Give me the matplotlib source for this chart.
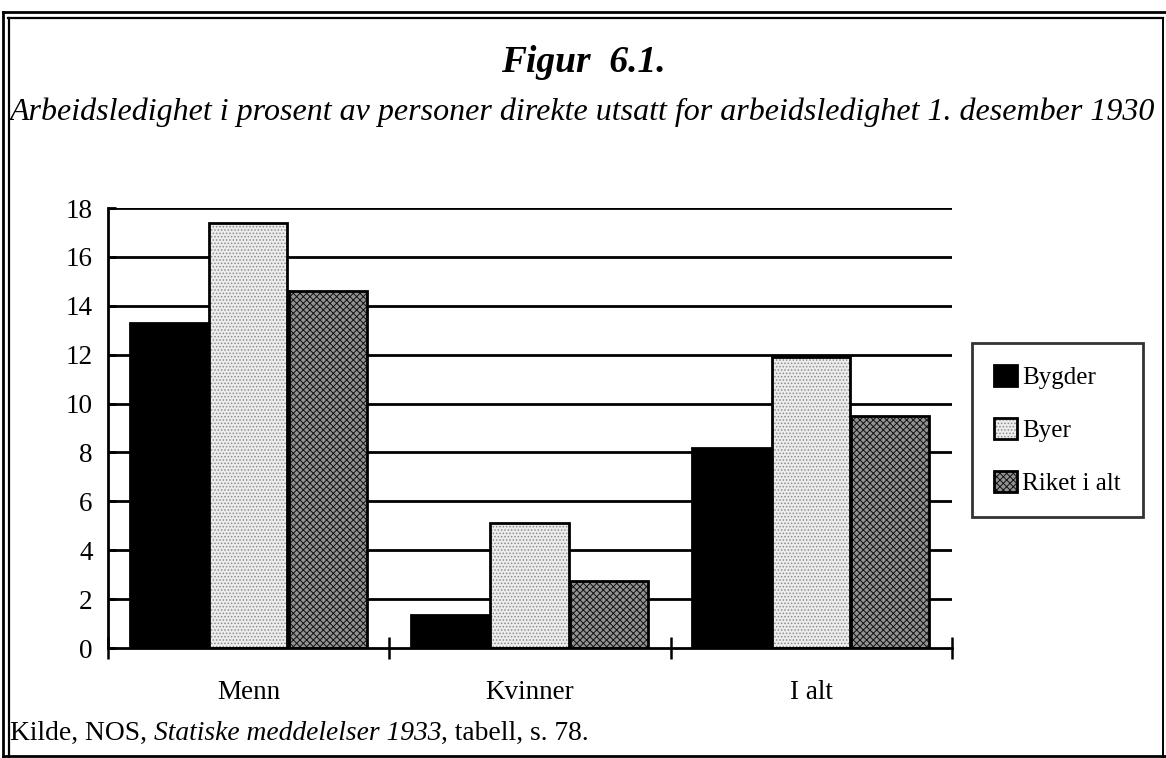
import matplotlib
matplotlib.use("Agg")
import matplotlib.pyplot as plt
from matplotlib.patches import Patch
from matplotlib.legend_handler import HandlerTuple
from matplotlib.lines import Line2D
import numpy as np

categories = ["Menn", "Kvinner", "I alt"]
series = ["Bygder", "Byer", "Riket i alt"]
bygder = [13.3, 1.35, 8.2]
byer = [17.4, 5.1, 11.9]
riket = [14.6, 2.75, 9.5]
yticks = [0, 2, 4, 6, 8, 10, 12, 14, 16, 18]

plt.rcParams['font.family'] = ['Liberation Serif', 'DejaVu Serif']
plt.rcParams['hatch.linewidth'] = 0.7

W, H = 1166, 758
fig = plt.figure(figsize=(W / 100, H / 100), dpi=100)
ax = fig.add_axes([108 / W, (H - 648) / H, (952 - 108) / W, (648 - 208) / H])

styles = [
    dict(face='black', hatch=None, hcol=None),
    dict(face='#ececec', hatch='.....', hcol='#8c8c8c'),
    dict(face='#929292', hatch='xxxxx', hcol='#111111'),
]
values = [bygder, byer, riket]
x = np.arange(len(categories)) + 0.498
offsets = [-0.282, 0.0, 0.283]
width = 0.278

for vals, st, off in zip(values, styles, offsets):
    xs = x + off
    ax.bar(xs, vals, width, color=st['face'], edgecolor='none', linewidth=0, zorder=3)
    if st['hatch']:
        ax.bar(xs, vals, width, facecolor='none', edgecolor=st['hcol'], hatch=st['hatch'],
               linewidth=0, zorder=4)
    ax.bar(xs, vals, width, facecolor='none', edgecolor='black', linewidth=2, zorder=5)

ax.set_xlim(0, 3)
ax.set_ylim(0, 18)
for s in ['top', 'right']:
    ax.spines[s].set_visible(False)
for s in ['left', 'bottom']:
    ax.spines[s].set_linewidth(2)
    ax.spines[s].set_zorder(6)

ax.set_yticks(yticks)
ax.set_yticklabels([str(v) for v in yticks], fontsize=19.5)
ax.tick_params(axis='y', direction='in', length=6, width=2, pad=11)
for v in yticks[1:]:
    ax.axhline(v, color='black', linewidth=2, zorder=1)

ax.set_xticks([0, 1, 2, 3])
ax.set_xticklabels([])
ax.tick_params(axis='x', which='major', direction='inout', length=16, width=1.8)
ax.set_xticks([0.5, 1.5, 2.5], minor=True)
ax.set_xticklabels(categories, minor=True, fontsize=19.5)
ax.tick_params(axis='x', which='minor', length=0, pad=23)

# legend
handles = []
for st in styles:
    parts = [Patch(facecolor=st['face'], edgecolor='none')]
    if st['hatch']:
        parts.append(Patch(facecolor='none', edgecolor=st['hcol'], hatch=st['hatch'], linewidth=0))
    parts.append(Patch(facecolor='none', edgecolor='black', linewidth=2))
    handles.append(tuple(parts))
leg = fig.legend(handles, series, loc='center',
                 bbox_to_anchor=((973 + 1142) / 2 / W, 1 - 430 / H),
                 handler_map={tuple: HandlerTuple(ndivide=1, pad=0)},
                 fontsize=18, frameon=True, fancybox=False, edgecolor='black',
                 handlelength=0.9, handleheight=0.9, handletextpad=0.2,
                 labelspacing=1.15, borderpad=0.9, borderaxespad=0)
leg.get_frame().set_linewidth(2)

# titles
fig.text(583 / W, 1 - 63 / H, "Figur  6.1.", ha='center', va='center', fontsize=27,
         fontweight='bold', fontstyle='italic')
fig.text(10 / W, 1 - 112 / H,
         "Arbeidsledighet i prosent av personer direkte utsatt for arbeidsledighet 1. desember 1930",
         ha='left', va='center', fontsize=23, fontstyle='italic')

# footer with mixed styles
renderer = fig.canvas.get_renderer()
pieces = [("Kilde, NOS, ", 'normal'), ("Statiske meddelelser 1933", 'italic'),
          (", tabell, s. 78.", 'normal')]
xpos = 10
for txt, style in pieces:
    t = fig.text(xpos / W, 1 - 740 / H, txt, ha='left', va='baseline', fontsize=19.8,
                 fontstyle=style)
    bb = t.get_window_extent(renderer=renderer)
    xpos += bb.width

# frame lines
def fline(xs, ys, lw=2):
    fig.add_artist(Line2D([v / W for v in xs], [1 - v / H for v in ys],
                          color='black', linewidth=lw, transform=fig.transFigure))

fline([3, 1165], [12, 12], 2)
fline([8, 1163], [18, 18], 1.6)
fline([3, 3], [12, 757], 2)
fline([9, 9], [18, 757], 1.6)
fline([1163, 1163], [18, 757], 1.4)
fline([3, 1165], [756, 756], 2)

fig.savefig("out.png", dpi=100)
